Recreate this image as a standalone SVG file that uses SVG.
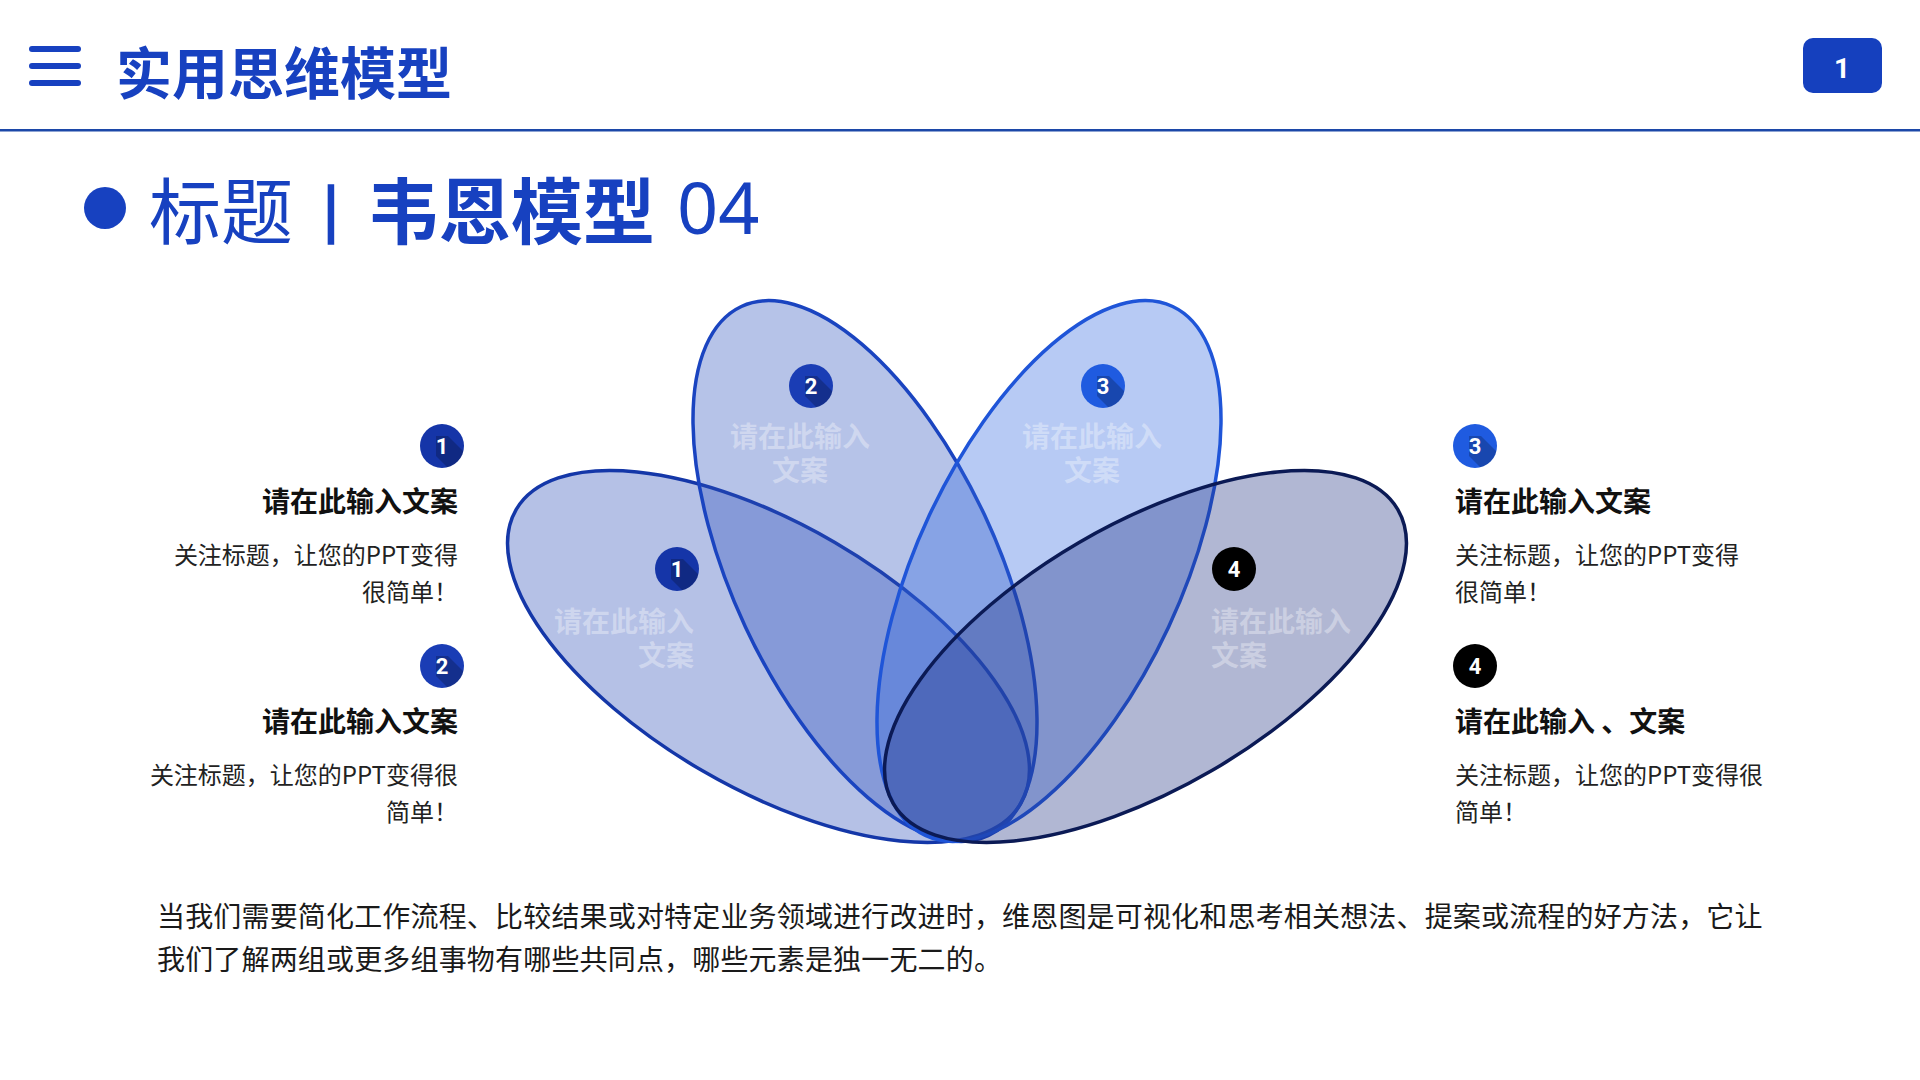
<svg xmlns="http://www.w3.org/2000/svg" width="1920" height="1080" viewBox="0 0 1920 1080">
<style>
.cjk{font-family:'Noto Sans CJK SC','Noto Sans',sans-serif}
.num{font-family:Roboto,'Noto Sans',sans-serif;font-weight:700;fill:#fff;text-anchor:middle}
.h{font-family:'Noto Sans CJK SC',sans-serif;font-weight:700;font-size:28px;fill:#111}
.d{font-family:'Noto Sans CJK SC',sans-serif;font-weight:400;font-size:24px;fill:#222}
.ghost{font-family:'Noto Sans CJK SC',sans-serif;font-weight:700;font-size:28px;fill:#fff;fill-opacity:0.35}
.pet{stroke-width:3.5}
</style>
<defs>
<clipPath id="bc"><circle r="22"/></clipPath>
<path id="ls" d="M-6,-10 L6,-10 L34,18 L34,34 L18,34 L-6,10 Z" fill="#000" fill-opacity="0.22" clip-path="url(#bc)"/>
</defs>
<rect width="1920" height="1080" fill="#fff"/>

<g id="header">
<g stroke="#1741C0" stroke-width="6" stroke-linecap="round">
<line x1="32" y1="49" x2="78" y2="49"/>
<line x1="32" y1="66" x2="78" y2="66"/>
<line x1="32" y1="83" x2="78" y2="83"/>
</g>
<text x="116" y="94" class="cjk" font-size="56" font-weight="700" fill="#1741C0">实用思维模型</text>
<rect x="1803" y="38" width="79" height="55" rx="10" fill="#1540BE"/>
<text x="1842" y="78" class="num" font-size="28">1</text>
<rect x="0" y="129" width="1920" height="2.5" fill="#1C48A8"/>
</g>

<g id="subtitle">
<circle cx="105" cy="208" r="21" fill="#1741C0"/>
<text x="149" y="238" class="cjk" font-size="72" font-weight="400" fill="#1741C0">标题</text>
<text x="331" y="229" class="cjk" font-size="52" font-weight="700" fill="#1741C0" stroke="#1741C0" stroke-width="1.5" text-anchor="middle">|</text>
<text x="367" y="238" class="cjk" font-size="72" font-weight="700" fill="#1741C0">韦恩模型</text>
<text x="677" y="234" font-family="'Noto Sans',sans-serif" font-size="72" font-weight="400" fill="#1741C0">04</text>
</g>

<g id="petals">
<ellipse id="petal1" class="pet" cx="768.5" cy="656.5" rx="292" ry="132" transform="rotate(30.2 768.5 656.5)" fill="#2A4DB8" fill-opacity="0.35" stroke="#1437A8"/>
<ellipse id="petal2" class="pet" cx="865" cy="571" rx="292" ry="132" transform="rotate(64.95 865 571)" fill="#2F54BC" fill-opacity="0.35" stroke="#1A44C0"/>
<ellipse id="petal3" class="pet" cx="1049" cy="571" rx="292" ry="132" transform="rotate(-64.95 1049 571)" fill="#3168E0" fill-opacity="0.35" stroke="#1F55D8"/>
<ellipse id="petal4" class="pet" cx="1145.5" cy="656.5" rx="292" ry="132" transform="rotate(-30.2 1145.5 656.5)" fill="#203181" fill-opacity="0.35" stroke="#0B1A55"/>
</g>

<g id="petal-labels">
<g id="pl1">
<g transform="translate(677 569)"><circle r="22" fill="#1535A8"/><use href="#ls"/><text y="8" class="num" font-size="22">1</text></g>
<text class="ghost" text-anchor="end"><tspan x="694" y="632">请在此输入</tspan><tspan x="694" y="666">文案</tspan></text>
</g>
<g id="pl2">
<g transform="translate(811 386)"><circle r="22" fill="#1A3DB5"/><use href="#ls"/><text y="8" class="num" font-size="22">2</text></g>
<text class="ghost" text-anchor="middle"><tspan x="800" y="447">请在此输入</tspan><tspan x="800" y="481">文案</tspan></text>
</g>
<g id="pl3">
<g transform="translate(1103 386)"><circle r="22" fill="#1F5BE0"/><use href="#ls"/><text y="8" class="num" font-size="22">3</text></g>
<text class="ghost" text-anchor="middle"><tspan x="1092" y="447">请在此输入</tspan><tspan x="1092" y="481">文案</tspan></text>
</g>
<g id="pl4">
<g transform="translate(1234 569)"><circle r="22" fill="#000"/><text y="8" class="num" font-size="22">4</text></g>
<text class="ghost"><tspan x="1211" y="632">请在此输入</tspan><tspan x="1211" y="666">文案</tspan></text>
</g>
</g>

<g id="item1">
<g transform="translate(442 446)"><circle r="22" fill="#1535A8"/><use href="#ls"/><text y="8" class="num" font-size="22">1</text></g>
<text x="458" y="512" class="h" text-anchor="end">请在此输入文案</text>
<text class="d" text-anchor="end"><tspan x="458" y="564">关注标题，让您的PPT变得</tspan><tspan x="458" y="601">很简单！</tspan></text>
</g>
<g id="item2">
<g transform="translate(442 666)"><circle r="22" fill="#1A3DB5"/><use href="#ls"/><text y="8" class="num" font-size="22">2</text></g>
<text x="458" y="732" class="h" text-anchor="end">请在此输入文案</text>
<text class="d" text-anchor="end"><tspan x="458" y="784">关注标题，让您的PPT变得很</tspan><tspan x="458" y="821">简单！</tspan></text>
</g>
<g id="item3">
<g transform="translate(1475 446)"><circle r="22" fill="#1F5BE0"/><use href="#ls"/><text y="8" class="num" font-size="22">3</text></g>
<text x="1455" y="512" class="h">请在此输入文案</text>
<text class="d"><tspan x="1455" y="564">关注标题，让您的PPT变得</tspan><tspan x="1455" y="601">很简单！</tspan></text>
</g>
<g id="item4">
<g transform="translate(1475 666)"><circle r="22" fill="#000"/><text y="8" class="num" font-size="22">4</text></g>
<text x="1455" y="732" class="h">请在此输入 、文案</text>
<text class="d"><tspan x="1455" y="784">关注标题，让您的PPT变得很</tspan><tspan x="1455" y="821">简单！</tspan></text>
</g>

<g id="paragraph">
<text class="cjk" font-size="28" fill="#1a1a1a" letter-spacing="0.17"><tspan x="157" y="927">当我们需要简化工作流程、比较结果或对特定业务领域进行改进时，维恩图是可视化和思考相关想法、提案或流程的好方法，它让</tspan><tspan x="157" y="970">我们了解两组或更多组事物有哪些共同点，哪些元素是独一无二的。</tspan></text>
</g>
</svg>
